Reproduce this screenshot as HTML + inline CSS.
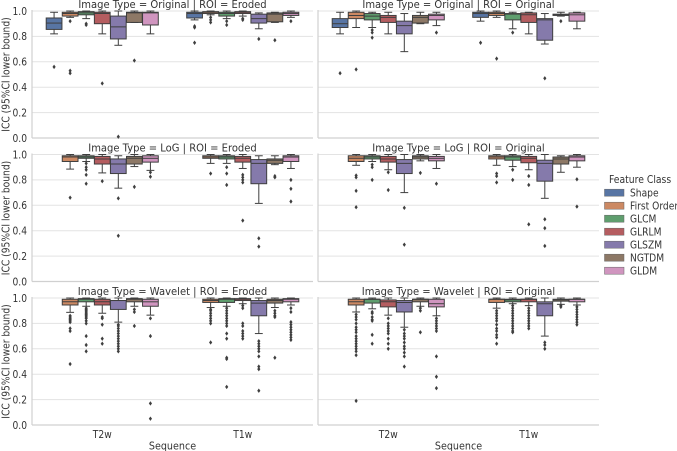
<!DOCTYPE html>
<html><head><meta charset="utf-8"><style>
html,body{margin:0;padding:0;background:#fff;}
svg{display:block;font-family:"DejaVu Sans","Liberation Sans",sans-serif;}
</style></head><body>
<svg id="chart" width="677" height="451" viewBox="0 0 677 451" xmlns="http://www.w3.org/2000/svg"></svg>
<script>
const categories = ["T2w", "T1w"];
const featureClasses = ["Shape", "First Order", "GLCM", "GLRLM", "GLSZM", "NGTDM", "GLDM"];
const yTicks = [0.0, 0.2, 0.4, 0.6, 0.8, 1.0];
const yTickLabels = ["0.0", "0.2", "0.4", "0.6", "0.8", "1.0"];
const panelTitles = [
  "Image Type = Original | ROI = Eroded", "Image Type = Original | ROI = Original",
  "Image Type = LoG | ROI = Eroded", "Image Type = LoG | ROI = Original",
  "Image Type = Wavelet | ROI = Eroded", "Image Type = Wavelet | ROI = Original"
];
// each: [whiskerLow, q1, median, q3, whiskerHigh]; T2w x7 then T1w x7
const statsOrigEroded = [
  [0.82,0.855,0.905,0.945,0.99],[0.95,0.96,0.98,0.99,1.0],[0.94,0.97,0.985,0.995,1.0],[0.82,0.90,0.98,0.99,1.0],[0.73,0.78,0.875,0.96,1.0],[0.91,0.91,0.985,0.99,1.0],[0.82,0.89,0.985,0.99,1.0],
  [0.93,0.945,0.98,0.99,1.0],[0.97,0.98,0.99,0.995,1.0],[0.94,0.96,0.98,0.99,1.0],[0.96,0.98,0.99,0.995,1.0],[0.86,0.905,0.94,0.975,0.985],[0.91,0.915,0.975,0.985,0.99],[0.95,0.965,0.98,0.99,1.0]
];
const outOrigEroded = [[0.56],[0.92,0.53,0.51],[0.9,0.89],[0.43],[0.01],[0.61],[],[0.88,0.87,0.75],[0.95,0.93,0.91],[0.92,0.89],[0.94,0.93],[0.78],[0.77],[0.92]];
const statsOrigOrig = [
  [0.82,0.87,0.90,0.94,0.99],[0.87,0.94,0.965,0.99,1.0],[0.87,0.93,0.96,0.98,0.99],[0.82,0.91,0.95,0.965,0.99],[0.68,0.82,0.885,0.92,0.98],[0.90,0.905,0.95,0.965,0.99],[0.885,0.93,0.965,0.975,0.99],
  [0.92,0.95,0.98,0.99,1.0],[0.95,0.965,0.98,0.99,1.0],[0.86,0.93,0.975,0.98,0.99],[0.82,0.91,0.97,0.985,0.99],[0.74,0.77,0.93,0.94,0.98],[0.96,0.965,0.97,0.975,0.99],[0.86,0.92,0.97,0.985,0.99]
];
const outOrigOrig = [[0.51],[0.54],[0.85,0.83,0.79],[],[],[],[0.83],[0.75],[0.625],[0.83],[],[0.47],[0.92],[]];
const statsLogEroded = [
  null,[0.885,0.945,0.98,0.99,1.0],[0.945,0.97,0.98,0.99,1.0],[0.855,0.925,0.965,0.985,1.0],[0.735,0.85,0.925,0.965,0.99],[0.905,0.925,0.97,0.985,1.0],[0.875,0.94,0.97,0.99,1.0],
  null,[0.93,0.97,0.98,0.99,1.0],[0.93,0.965,0.98,0.99,1.0],[0.89,0.94,0.97,0.985,1.0],[0.615,0.77,0.93,0.96,0.99],[0.92,0.93,0.955,0.965,0.99],[0.89,0.945,0.98,0.99,1.0]
];
const outLogEroded = [[],[0.66],[0.93,0.9,0.88,0.84,0.77],[0.79],[0.655,0.36],[0.745],[0.86,0.825],[],[0.85],[0.9,0.85,0.76],[0.84,0.82,0.8,0.78,0.48],[0.34,0.275],[0.83,0.82],[0.8,0.73,0.63]];
const statsLogOrig = [
  null,[0.915,0.945,0.97,0.99,1.0],[0.945,0.965,0.98,0.99,1.0],[0.88,0.94,0.965,0.985,1.0],[0.70,0.85,0.93,0.96,1.0],[0.95,0.965,0.98,0.99,1.0],[0.89,0.95,0.97,0.985,1.0],
  null,[0.915,0.965,0.98,0.99,1.0],[0.905,0.955,0.98,0.99,1.0],[0.88,0.935,0.97,0.985,1.0],[0.655,0.79,0.93,0.955,1.0],[0.86,0.925,0.965,0.98,0.99],[0.90,0.95,0.98,0.99,1.0]
];
const outLogOrig = [[],[0.835,0.82,0.714,0.585],[0.92,0.9,0.8],[0.86,0.72],[0.58,0.29],[0.855],[0.77],[],[0.85,0.83,0.78],[0.88,0.8],[0.83,0.76,0.45],[0.49,0.42,0.28],[],[0.805,0.59]];
const statsWavEroded = [
  null,[0.887,0.945,0.97,0.99,1.0],[0.935,0.97,0.99,0.995,1.0],[0.88,0.945,0.97,0.99,1.0],[0.81,0.91,0.98,0.98,1.0],[0.935,0.97,0.99,0.995,1.0],[0.865,0.935,0.97,0.99,1.0],
  null,[0.925,0.965,0.98,0.99,1.0],[0.935,0.965,0.99,0.995,1.0],[0.955,0.98,0.99,0.995,1.0],[0.72,0.86,0.96,0.98,1.0],[0.925,0.96,0.98,0.99,1.0],[0.945,0.97,0.99,0.995,1.0]
];
const outWavEroded = [[],[0.86,0.85,0.84,0.83,0.82,0.81,0.76,0.74,0.48],[0.92,0.91,0.9,0.89,0.88,0.87,0.86,0.85,0.84,0.82,0.8,0.7,0.63,0.58],[0.85,0.84,0.79,0.68,0.64],[0.79,0.78,0.76,0.74,0.72,0.7,0.68,0.66,0.64,0.62,0.6,0.58],[0.91,0.89,0.78],[0.84,0.7,0.17,0.05],
  [],[0.91,0.9,0.88,0.86,0.84,0.82,0.8,0.65],[0.92,0.9,0.88,0.86,0.84,0.82,0.8,0.78,0.72,0.68,0.53,0.52,0.3],[0.94,0.92,0.8,0.78,0.74,0.72,0.7,0.68],[0.66,0.64,0.62,0.6,0.58,0.54,0.46,0.44,0.27],[0.9,0.88,0.86,0.85,0.53],[0.92,0.89,0.81,0.79,0.77,0.75,0.73,0.71,0.69,0.67]];
const statsWavOrig = [
  null,[0.89,0.945,0.97,0.99,1.0],[0.915,0.96,0.99,0.99,1.0],[0.865,0.93,0.97,0.985,1.0],[0.77,0.89,0.965,0.98,1.0],[0.935,0.97,0.99,0.99,1.0],[0.86,0.93,0.955,0.99,1.0],
  null,[0.92,0.965,0.99,0.99,1.0],[0.955,0.97,0.985,0.99,1.0],[0.94,0.97,0.99,0.99,1.0],[0.70,0.86,0.955,0.97,1.0],[0.95,0.975,0.985,0.99,1.0],[0.945,0.97,0.99,0.99,1.0]
];
const outWavOrig = [[],[0.87,0.85,0.83,0.8,0.77,0.75,0.73,0.7,0.68,0.66,0.64,0.62,0.6,0.58,0.55,0.19],[0.89,0.88,0.85,0.83,0.82,0.71,0.64],[0.84,0.8,0.78,0.76,0.74,0.72,0.68,0.64,0.6],[0.75,0.72,0.7,0.68,0.65,0.62,0.6,0.57,0.54,0.46],[0.92,0.9,0.73],[0.84,0.82,0.8,0.78,0.76,0.74,0.54,0.38,0.29],
  [],[0.9,0.88,0.86,0.84,0.82,0.79,0.76,0.74,0.71,0.69,0.64],[0.94,0.92,0.9,0.88,0.86,0.84,0.82,0.8,0.78,0.76,0.74,0.73],[0.92,0.9,0.88,0.86,0.84,0.82,0.8,0.78,0.76],[0.65,0.63,0.6],[0.94,0.93],[0.93,0.91,0.89,0.87,0.85,0.83,0.81,0.79]];

const panelStats = [statsOrigEroded, statsOrigOrig, statsLogEroded, statsLogOrig, statsWavEroded, statsWavOrig];
const panelOutliers = [outOrigEroded, outOrigOrig, outLogEroded, outLogOrig, outWavEroded, outWavOrig];

const colors = ["#5875a4","#cc8963","#5f9e6e","#b55d60","#857aab","#8d7866","#d095bf"];
const NS = "http://www.w3.org/2000/svg";
const svg = document.getElementById("chart");
function mk(tag, attrs, parent){const e=document.createElementNS(NS,tag);for(const k in attrs)e.setAttribute(k,attrs[k]);(parent||svg).appendChild(e);return e;}
function squeeze(t, f){
  try { const w = t.getComputedTextLength(); if (w > 0) { t.setAttribute("textLength", (w*f).toFixed(1)); t.setAttribute("lengthAdjust", "spacingAndGlyphs"); } } catch(e) {}
}

const colX = [32, 318], panelW = 281;
const rowY = [11, 154.5, 298], panelH = 127;
const line = "#3f3f3f";
const TF = 0.87;

for (let p = 0; p < 6; p++) {
  const col = p % 2, row = Math.floor(p / 2);
  const x0 = colX[col], y0 = rowY[row];
  const g = mk("g", {});
  
  
  const yS = v => y0 + (1 - v) * panelH;
  const catW = panelW / categories.length;
  const slot = catW * 0.8 / featureClasses.length;
  const xS = (c, h) => x0 + catW * (c + 0.5) + (h - (featureClasses.length - 1) / 2) * slot;
  yTicks.forEach((t, i) => {
    const gl = mk("line", {x1:x0, x2:x0+panelW, y1:yS(t), y2:yS(t), stroke:"#e3e3e3", "stroke-width":1}, g);
    
    
    if (col === 0) {
      const tl = mk("text", {x:x0-5, y:yS(t)+3.8, "text-anchor":"end", "font-size":10.5, fill:"#333"}, g);
      tl.textContent = yTickLabels[i];
      
      
      squeeze(tl, TF);
    }
  });
  const ls = mk("line", {x1:x0, x2:x0, y1:y0-1, y2:y0+panelH, stroke:"#d0d0d0", "stroke-width":1.2}, g);
  
  
  const bs = mk("line", {x1:x0, x2:x0+panelW, y1:y0+panelH, y2:y0+panelH, stroke:"#d0d0d0", "stroke-width":1.2}, g);
  
  
  const tt = mk("text", {x:x0+panelW/2, y:y0-3, "text-anchor":"middle", "font-size":10.5, fill:"#333"}, g);
  tt.textContent = panelTitles[p];
  
  
  squeeze(tt, 0.95);
  if (col === 0) {
    const yl = mk("text", {x:0, y:0, "text-anchor":"middle", "font-size":10.5, fill:"#333", transform:`translate(9.5,${y0+panelH/2}) rotate(-90)`}, g);
    yl.textContent = "ICC (95%CI lower bound)";
    
    
    squeeze(yl, TF);
  }
  if (row === 2) {
    categories.forEach((c, ci) => {
      const xl = mk("text", {x:x0+catW*(ci+0.5), y:438, "text-anchor":"middle", "font-size":10.5, fill:"#333"}, g);
      xl.textContent = c;
      
      
      squeeze(xl, TF);
    });
    const xt = mk("text", {x:x0+panelW/2, y:449.5, "text-anchor":"middle", "font-size":11, fill:"#333"}, g);
    xt.textContent = "Sequence";
    
    
    squeeze(xt, TF);
  }
  const st = panelStats[p], outs = panelOutliers[p];
  const bw = slot * 0.98;
  for (let c = 0; c < categories.length; c++) {
    for (let h = 0; h < featureClasses.length; h++) {
      const idx = c * featureClasses.length + h;
      const s = st[idx];
      const cx = xS(c, h);
      if (s) {
        const bg = mk("g", {}, g);
        
        
        mk("line", {x1:cx, x2:cx, y1:yS(s[0]), y2:yS(s[1]), stroke:line, "stroke-width":1}, bg);
        mk("line", {x1:cx, x2:cx, y1:yS(s[3]), y2:yS(s[4]), stroke:line, "stroke-width":1}, bg);
        mk("line", {x1:cx-bw/4, x2:cx+bw/4, y1:yS(s[0]), y2:yS(s[0]), stroke:line, "stroke-width":1}, bg);
        mk("line", {x1:cx-bw/4, x2:cx+bw/4, y1:yS(s[4]), y2:yS(s[4]), stroke:line, "stroke-width":1}, bg);
        mk("rect", {x:cx-bw/2, y:yS(s[3]), width:bw, height:Math.max(0.8, yS(s[1])-yS(s[3])), fill:colors[h], stroke:line, "stroke-width":1}, bg);
        mk("line", {x1:cx-bw/2, x2:cx+bw/2, y1:yS(s[2]), y2:yS(s[2]), stroke:line, "stroke-width":1}, bg);
      }
      (outs[idx] || []).forEach(v => {
        const y = yS(v);
        const d = mk("path", {d:`M${cx},${y-2.2}L${cx+1.6},${y}L${cx},${y+2.2}L${cx-1.6},${y}Z`, fill:line}, g);
        
        
      });
    }
  }
}
const lg = mk("g", {});


const lt = mk("text", {x:609, y:183, "font-size":11, fill:"#333"}, lg);
lt.textContent = "Feature Class";


squeeze(lt, 0.84);
featureClasses.forEach((f, i) => {
  const y = 192.7 + i * 13;
  const e = mk("g", {}, lg);
  
  
  mk("rect", {x:604.5, y:y-3.5, width:19.5, height:7, fill:colors[i], stroke:"#666", "stroke-width":0.5}, e);
  const t = mk("text", {x:630, y:y+3.7, "font-size":10.5, fill:"#333"}, e);
  t.textContent = f;
  squeeze(t, TF);
});
</script>
</body></html>
